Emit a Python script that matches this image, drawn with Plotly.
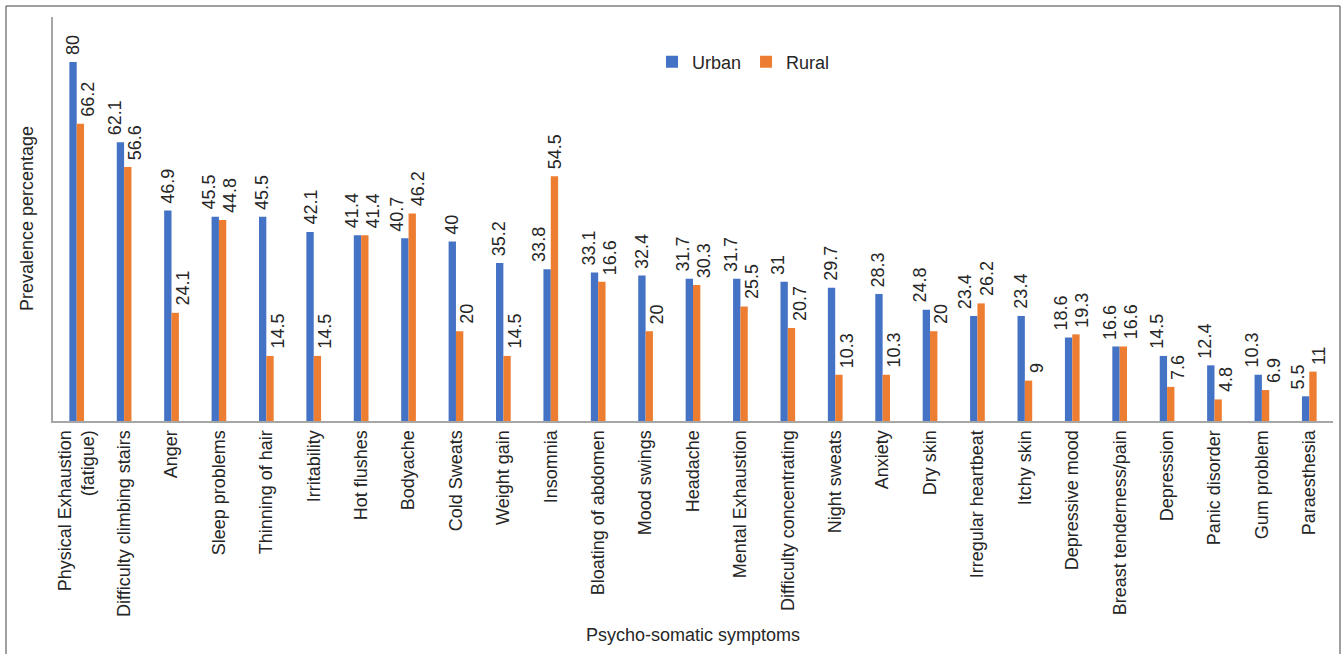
import plotly.graph_objects as go

categories = [
    "Physical Exhaustion<br>(fatigue)", "Difficulty climbing stairs", "Anger", "Sleep problems",
    "Thinning of hair", "Irritability", "Hot flushes", "Bodyache", "Cold Sweats", "Weight gain",
    "Insomnia", "Bloating of abdomen", "Mood swings", "Headache", "Mental Exhaustion",
    "Difficulty concentrating", "Night sweats", "Anxiety", "Dry skin", "Irregular heartbeat",
    "Itchy skin", "Depressive mood", "Breast tenderness/pain", "Depression", "Panic disorder",
    "Gum problem", "Paraesthesia",
]
urban = [80, 62.1, 46.9, 45.5, 45.5, 42.1, 41.4, 40.7, 40, 35.2, 33.8, 33.1, 32.4, 31.7, 31.7,
         31, 29.7, 28.3, 24.8, 23.4, 23.4, 18.6, 16.6, 14.5, 12.4, 10.3, 5.5]
# rural bar heights as drawn in the original (the "Bloating" bar is drawn at ~31 although labelled 16.6)
rural = [66.2, 56.6, 24.1, 44.8, 14.5, 14.5, 41.4, 46.2, 20, 14.5, 54.5, 31.0, 20, 30.3, 25.5,
         20.7, 10.3, 10.3, 20, 26.2, 9, 19.3, 16.6, 7.6, 4.8, 6.9, 11]
# data-label values printed in the original
urban_labels = [f"{v:g}" for v in urban]
rural_labels = ["66.2", "56.6", "24.1", "44.8", "14.5", "14.5", "41.4", "46.2", "20", "14.5",
                "54.5", "16.6", "20", "30.3", "25.5", "20.7", "10.3", "10.3", "20", "26.2",
                "9", "19.3", "16.6", "7.6", "4.8", "6.9", "11"]

FONT = "Arial, Liberation Sans, sans-serif"
TXT = "#262626"
BLUE, ORANGE = "#4472C4", "#ED7D31"
FS = 18
YMAX = 90
BARGAP = 0.69

L, R, T, B = 53, 11, 17, 233
W, H = 1344, 654
pw, ph = W - L - R, H - T - B


def px(x):
    return (x - L) / pw


def py(y):
    return (H - B - y) / ph


fig = go.Figure()
for name, vals, col in [("Urban", urban, BLUE), ("Rural", rural, ORANGE)]:
    fig.add_trace(go.Bar(name=name, x=categories, y=vals,
                         marker=dict(color=col, line=dict(width=0))))

# data labels (rotated, outside end), nudged sideways like the original to avoid overlaps
unit = ph / YMAX                      # pixels per data unit
cat_w = pw / len(categories)
bar_off = (1 - BARGAP) * cat_w / 4    # centre of each bar relative to category centre
GAP = 7


def lab_len(s):
    return sum(5 if ch == "." else 10 for ch in s)


annotations = []
for c, u, r, su, sr in zip(categories, urban, rural, urban_labels, rural_labels):
    if u > r:
        tall, short = "u", "r"
        overlap = (u - r) * unit < GAP + lab_len(sr) + GAP
    elif r > u:
        tall, short = "r", "u"
        overlap = (r - u) * unit < GAP + lab_len(su) + GAP
    else:
        tall, short, overlap = "u", "r", True
    shift = {short: 8, tall: 6 if overlap else 0}
    for key, v, s, sign in [("u", u, su, -1), ("r", r, sr, 1)]:
        annotations.append(dict(
            x=c, y=v, xref="x", yref="y", text=s, showarrow=False, textangle=-90,
            xanchor="center", yanchor="bottom", xshift=sign * (bar_off + shift[key]),
            yshift=5, font=dict(family=FONT, size=FS, color=TXT)))

annotations += [
    dict(text="Prevalence percentage", xref="paper", yref="paper", x=px(27), y=0.5,
         textangle=-90, showarrow=False, xanchor="center", yanchor="middle",
         font=dict(family=FONT, size=FS, color=TXT)),
    dict(text="Psycho-somatic symptoms", xref="paper", yref="paper", x=0.5, y=py(635),
         showarrow=False, xanchor="center", yanchor="middle",
         font=dict(family=FONT, size=FS, color=TXT)),
]

fig.update_layout(
    width=W, height=H, margin=dict(l=L, r=R, t=T, b=B),
    paper_bgcolor="white", plot_bgcolor="white",
    barmode="group", bargap=BARGAP, bargroupgap=0,
    font=dict(family=FONT, size=FS, color=TXT),
    showlegend=True,
    legend=dict(orientation="h", x=px(652), xanchor="left", y=py(62), yanchor="middle",
                font=dict(family=FONT, size=FS, color=TXT), itemwidth=30,
                bgcolor="rgba(0,0,0,0)"),
    xaxis=dict(showgrid=False, showline=True, linecolor="#A6A6A6", linewidth=2,
               ticks="", tickangle=-90, tickfont=dict(family=FONT, size=FS, color=TXT),
               zeroline=False),
    yaxis=dict(range=[0, YMAX], showgrid=False, showline=True, linecolor="#A6A6A6",
               linewidth=1.5, showticklabels=False, ticks="", zeroline=False),
    annotations=annotations,
    shapes=[dict(type="rect", xref="paper", yref="paper", x0=px(6), x1=px(1340),
                 y0=py(660), y1=py(6), line=dict(color="#404040", width=1),
                 fillcolor="rgba(0,0,0,0)", layer="below")],
)

fig.write_html("out.html")
